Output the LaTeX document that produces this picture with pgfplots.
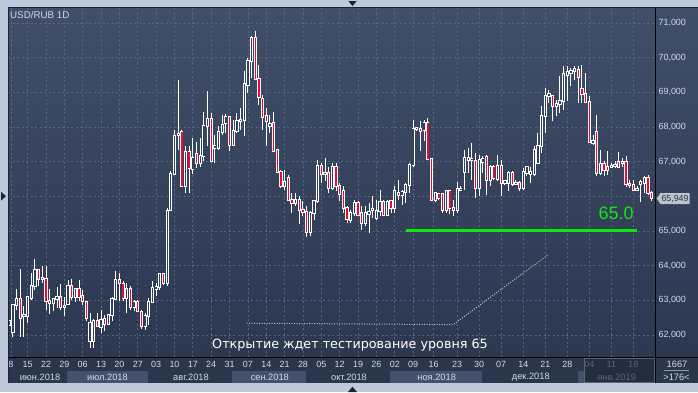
\documentclass[border=0pt]{standalone}
\usepackage{pgfplots}
\pgfplotsset{compat=1.18}
\usepackage{pgfplotstable}
\usepackage{fontspec}
\setmainfont{Liberation Sans}
\newfontfamily\dejavu{DejaVu Sans}

\definecolor{frame}{RGB}{190,202,217}
\definecolor{bgtop}{RGB}{64,78,105}
\definecolor{bgbot}{RGB}{44,55,80}
\definecolor{datebg}{RGB}{43,53,76}
\definecolor{band}{RGB}{68,81,108}
\definecolor{janbox}{RGB}{36,45,64}
\definecolor{gridc}{RGB}{86,101,132}
\definecolor{labc}{RGB}{205,218,236}
\definecolor{janc}{RGB}{88,100,124}
\definecolor{candred}{RGB}{238,8,48}
\definecolor{upfill}{RGB}{52,64,90}
\definecolor{lvl}{RGB}{10,235,10}
\definecolor{dotc}{RGB}{190,196,206}
\definecolor{markc}{RGB}{188,196,208}
\definecolor{markt}{RGB}{40,50,70}
\definecolor{tri}{RGB}{28,36,52}

\pgfplotstableread{
i o h l c
1 62.30 62.44 62.30 62.39
2 62.08 62.87 61.94 62.87
3 62.87 63.33 62.73 63.04
4 63.04 63.90 61.94 62.49
5 62.54 62.83 61.94 62.59
6 62.54 63.11 62.35 63.11
7 63.07 63.79 63.02 63.40
8 63.40 64.19 63.29 63.88
9 63.88 63.88 63.40 63.61
10 63.61 63.98 63.50 63.64
11 63.61 63.98 62.73 62.97
12 62.99 63.33 62.61 62.92
13 62.92 63.04 62.68 63.04
14 63.04 63.38 62.78 63.11
15 63.11 63.47 62.73 62.81
16 62.81 63.11 62.54 62.85
17 62.89 63.60 62.87 63.40
18 63.42 63.61 63.02 63.11
19 63.11 63.33 62.94 63.33
20 63.33 63.60 62.97 63.11
21 63.13 63.31 62.87 62.97
22 62.95 62.99 62.39 62.49
23 61.82 62.64 61.63 62.35
24 61.82 62.46 61.63 62.39
25 62.39 62.64 62.25 62.27
26 62.23 62.73 62.06 62.44
27 62.46 62.59 62.11 62.33
28 62.33 62.59 62.30 62.59
29 62.59 63.11 62.39 63.04
30 63.04 63.84 63.02 63.60
31 63.60 63.79 62.97 63.50
32 63.47 63.55 62.97 63.07
33 63.07 63.50 62.64 63.33
34 63.33 63.42 62.73 62.81
35 62.81 63.02 62.68 62.94
36 62.94 63.02 62.65 62.68
37 62.66 62.73 62.17 62.25
38 62.25 62.64 62.15 62.54
39 62.54 63.07 62.30 62.94
40 62.94 63.55 62.92 63.35
41 63.33 63.50 63.13 63.38
42 63.38 63.79 63.31 63.76
43 63.76 63.79 63.45 63.50
44 63.50 65.66 63.40 65.59
45 65.62 66.72 65.57 66.64
46 66.63 67.92 66.63 67.75
47 67.78 69.36 67.35 67.80
48 67.85 67.92 66.29 66.31
49 66.31 67.44 66.10 67.27
50 67.27 67.44 66.10 66.82
51 66.80 67.68 66.63 67.10
52 67.22 67.57 66.83 66.95
53 66.95 67.68 66.85 67.16
54 67.15 68.42 67.01 68.02
55 68.04 69.03 67.44 68.23
56 68.23 68.40 67.01 67.01
57 67.39 67.78 66.96 67.44
58 67.40 68.02 67.35 67.85
59 67.85 68.36 67.78 68.07
60 68.12 68.37 67.83 68.28
61 68.28 68.31 67.30 67.49
62 67.49 68.21 67.44 67.89
63 67.89 68.40 67.83 68.18
64 68.16 68.55 67.92 68.21
65 68.19 69.61 67.73 69.24
66 69.22 69.99 68.98 69.89
67 69.89 70.62 69.41 70.57
68 70.57 70.76 69.36 69.38
69 69.38 69.80 68.64 68.87
70 68.81 68.93 67.92 68.28
71 68.31 68.55 67.44 68.16
72 68.02 68.36 67.83 68.09
73 68.11 68.42 67.30 67.32
74 67.35 67.35 66.67 66.69
75 66.69 66.77 66.24 66.31
76 66.29 66.77 66.19 66.40
77 66.53 66.62 65.86 65.90
78 65.90 66.10 65.52 65.81
79 65.81 66.10 65.71 65.90
80 65.90 66.00 65.21 65.60
81 65.62 65.86 65.42 65.55
82 65.54 65.71 64.83 64.96
83 64.97 65.57 64.85 65.53
84 65.52 65.90 65.33 65.86
85 65.86 67.06 65.81 66.88
86 66.88 66.96 66.39 66.63
87 66.67 67.11 66.43 66.63
88 66.67 66.86 66.10 66.24
89 66.24 66.96 66.19 66.86
90 66.86 66.96 66.14 66.29
91 66.29 66.38 65.86 66.08
92 66.14 66.29 65.52 65.66
93 65.66 65.71 65.23 65.35
94 65.33 65.62 65.23 65.52
95 65.52 65.90 65.42 65.81
96 65.81 65.86 65.42 65.47
97 65.52 65.71 65.02 65.23
98 65.23 65.71 65.13 65.52
99 65.50 65.81 64.94 65.54
100 65.62 66.00 65.38 65.64
101 65.38 65.90 65.33 65.57
102 65.57 66.19 65.42 65.83
103 65.83 65.90 65.42 65.45
104 65.47 65.90 65.42 65.83
105 65.86 65.90 65.52 65.66
106 65.66 66.29 65.52 66.14
107 66.10 66.48 65.90 66.05
108 66.05 66.19 65.76 66.12
109 66.12 66.38 65.81 66.34
110 66.34 66.96 66.10 66.91
111 66.91 68.21 66.86 67.94
112 67.94 67.97 67.89 67.96
113 67.94 68.16 67.30 67.89
114 67.92 68.21 67.59 68.11
115 68.11 68.26 67.06 67.08
116 67.08 67.08 65.86 65.90
117 65.88 66.13 65.83 66.10
118 66.08 66.11 65.88 65.96
119 66.08 66.10 65.52 65.62
120 65.62 66.19 65.52 66.14
121 66.14 66.19 65.50 65.66
122 65.66 65.90 65.42 65.62
123 65.62 66.40 65.52 66.21
124 66.17 66.29 66.14 66.21
125 66.69 67.35 66.19 67.11
126 67.06 67.40 66.67 67.11
127 67.04 67.54 66.48 67.08
128 67.01 67.25 65.95 66.24
129 66.24 67.20 66.00 67.06
130 66.98 67.15 66.67 67.08
131 67.13 67.20 66.05 66.48
132 66.48 66.91 66.29 66.86
133 66.85 66.91 66.48 66.53
134 66.50 67.20 66.43 66.88
135 66.88 67.06 66.00 66.38
136 66.38 66.48 66.34 66.43
137 66.38 66.72 66.14 66.67
138 66.67 66.72 66.29 66.36
139 66.36 66.48 66.34 66.38
140 66.38 66.43 66.14 66.24
141 66.24 66.82 66.19 66.69
142 66.67 66.88 66.58 66.86
143 66.65 66.86 66.38 66.69
144 66.63 67.44 66.58 67.35
145 66.96 67.83 66.96 67.44
146 67.44 68.60 67.25 68.31
147 68.31 69.12 67.83 68.90
148 68.90 69.06 68.69 68.96
149 68.90 68.93 68.16 68.62
150 68.62 68.79 68.31 68.67
151 68.67 69.46 68.40 68.74
152 68.74 69.75 68.50 69.54
153 69.51 69.75 68.74 69.58
154 69.56 69.70 69.17 69.61
155 69.61 69.77 69.37 69.67
156 69.65 69.75 68.69 69.44
157 69.09 69.79 68.69 68.94
158 68.96 69.56 68.69 68.71
159 68.71 68.89 67.54 67.56
160 67.54 67.78 67.49 67.59
161 67.85 68.36 66.58 66.67
162 66.67 67.35 66.62 66.94
163 66.94 67.01 66.58 66.75
164 66.86 67.30 66.62 66.75
165 66.85 66.96 66.82 66.88
166 66.87 67.01 66.82 66.91
167 66.98 67.27 66.82 66.85
168 66.96 67.11 66.86 66.98
169 66.98 67.15 66.27 66.36
170 66.36 66.48 66.24 66.32
171 66.34 66.48 66.14 66.19
172 66.17 66.29 66.14 66.21
173 66.36 66.48 65.83 66.40
174 66.38 66.58 66.10 66.53
175 66.53 66.62 66.05 66.10
176 66.10 66.14 65.86 65.95
}\candles

\begin{document}
\begin{tikzpicture}[x=1bp,y=1bp]
\useasboundingbox (-8,-35) rectangle (690,357);
\fill[frame] (-8,-35) rectangle (690,357);
\shade[top color=bgtop,bottom color=bgbot] (647,0) rectangle (690,349);
\fill[datebg] (0,-26) rectangle (690,0);
\fill[band] (58.7,-26) rectangle (140,-14);
\fill[band] (223.7,-26) rectangle (298,-14);
\fill[band] (382,-26) rectangle (474,-14);
\fill[band] (570,-26) rectangle (646,-14);
\filldraw[fill=janbox,draw=janc,line width=0.8] (576.5,-25.5) rectangle (646,-1);

\begin{axis}[
  at={(0,0)}, anchor=south west,
  scale only axis, width=647bp, height=349bp,
  xmin=0.646, xmax=176.89, ymin=61.365, ymax=71.433,
  axis background/.style={top color=bgtop, bottom color=bgbot},
  axis line style={draw=none},
  major tick length=0pt,
  xtick={1.46,6,11,16,21,26,31,36,41,46,51,56,61,66,71,76,81,86,91,96,101,106,111,116.6,123,129,135,141,147,153,159,165,171},
  xticklabels={8,15,22,29,06,13,20,27,03,10,17,24,31,07,14,21,28,05,12,19,26,02,09,16,23,30,07,14,21,28,\textcolor{janc}{04},\textcolor{janc}{11},\textcolor{janc}{18}},
  ytick={62,63,64,65,66,67,68,69,70,71},
  yticklabels={{62,000},{63,000},{64,000},{65,000},{},{67,000},{68,000},{69,000},{70,000},{71,000}},
  yticklabel pos=right,
  grid=major,
  major grid style={gridc, line width=0.8bp, dash pattern=on 2bp off 2.5bp},
  tick label style={text=labc, font=\fontsize{9}{10}\selectfont},
  xticklabel style={anchor=center, yshift=-7bp},
  yticklabel style={anchor=west},
  /pgf/number format/assume math mode=true,
]
% wicks
\addplot[draw=none, mark=none, forget plot,
  error bars/.cd, y dir=plus, y explicit, error mark=none,
  error bar style={draw=white, line width=1bp}]
  table[x=i, y=l, y error expr=\thisrow{h}-\thisrow{l}] {\candles};
% body outlines
\addplot[draw=none, mark=none, forget plot,
  error bars/.cd, y dir=plus, y explicit, error mark=none,
  error bar style={draw=white, line width=3.2bp}]
  table[x=i, y expr={min(\thisrow{o},\thisrow{c})-0.029}, y error expr={abs(\thisrow{c}-\thisrow{o})+0.058}] {\candles};
% body interiors (up)
\addplot[draw=none, mark=none, forget plot,
  error bars/.cd, y dir=plus, y explicit, error mark=none,
  error bar style={draw=upfill, line width=1.3bp}]
  table[x=i, y expr={min(\thisrow{o},\thisrow{c})}, y error expr={abs(\thisrow{c}-\thisrow{o})}] {\candles};
% body interiors (down)
\addplot[draw=none, mark=none, forget plot,
  y filter/.expression={\thisrow{c}<\thisrow{o} ? y : nan},
  error bars/.cd, y dir=plus, y explicit, error mark=none,
  error bar style={draw=candred, line width=1.4bp}]
  table[x=i, y expr={min(\thisrow{o},\thisrow{c})}, y error expr={abs(\thisrow{c}-\thisrow{o})}] {\candles};
% support level
\addplot[lvl, line width=3bp, forget plot] coordinates {(108.98,65) (171.91,65)};
% dotted sketch
\addplot[dotc, line width=1bp, dash pattern=on 1bp off 1.5bp, forget plot] coordinates {(65.67,62.34) (121.95,62.30) (147.83,64.32)};
\node[text=lvl, font=\fontsize{18}{20}\selectfont] at (axis cs:166.27,65.51) {65.0};
\node[text=white, font=\dejavu\fontsize{12.8}{14}\selectfont] at (axis cs:93.81,61.70) {Открытие ждет тестирование уровня 65};
\end{axis}

% borders
\draw[black, line width=1bp] (647,-26) -- (647,349);
\draw[black, line width=1bp] (0,0) -- (690,0);
\draw[tri, line width=1bp] (0,-26) -- (0,349.5) -- (690,349.5);
% title
\node[anchor=base west, text=labc, font=\fontsize{9.8}{11}\selectfont, inner sep=0] at (2,338.7) {USD/RUB 1D};
% price marker
\fill[markc] (648.7,158.5) -- (652.5,164) -- (681.5,164) -- (681.5,153) -- (652.5,153) -- cycle;
\node[text=markt, font=\fontsize{8.8}{10}\selectfont] at (667,158.5) {65,949};
% month labels
\begin{scope}[every node/.style={text=labc, font=\fontsize{9.3}{10}\selectfont}]
\node at (32,-20) {июн.2018};
\node at (99.5,-20) {июл.2018};
\node at (183,-20) {авг.2018};
\node at (261.8,-20) {сен.2018};
\node at (341,-20) {окт.2018};
\node at (428.7,-20) {ноя.2018};
\node at (522.8,-20) {дек.2018};
\node[text=janc] at (608.8,-20) {янв.2019};
\node at (669,-7) {1667};
\node at (668.5,-20) {>176<};
\end{scope}
\draw[labc!60!datebg, line width=0.8bp] (656,-13.5) -- (681,-13.5);
% small triangles
\fill[tri] (340.3,356) -- (348.7,356) -- (344.5,351) -- cycle;
\fill[tri] (340,-35) -- (349,-35) -- (344.5,-29.7) -- cycle;
\fill[tri] (-7,165.3) -- (-7,156.3) -- (-2,160.8) -- cycle;
\end{tikzpicture}
\end{document}
